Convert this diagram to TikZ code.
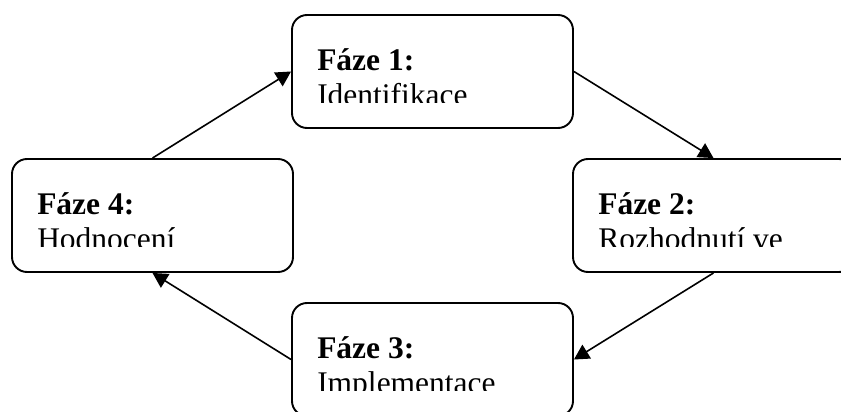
\documentclass[tikz,border=0pt]{standalone}
\usepackage{fontspec}
\setmainfont{Liberation Serif}
\usetikzlibrary{arrows.meta,calc,backgrounds}
\begin{document}
\begin{tikzpicture}[x=1pt,y=-1pt,
  phase/.style={draw, line width=1.9pt, rounded corners=15pt, fill=white,
    minimum width=281pt, minimum height=113pt, inner sep=0pt},
  arr/.style={line width=1.6pt, -{Triangle[length=15pt,width=16pt]}},
  txt/.style={anchor=base west, inner sep=0pt, font=\fontsize{31.5}{36}\selectfont}]
\useasboundingbox (0,0) rectangle (841,412);
\clip (0,0) rectangle (841,412);
\node[phase] (b1) at (432.5,71.5) {};
\node[phase] (b2) at (713.5,215.5) {};
\node[phase] (b3) at (432.5,359.5) {};
\node[phase] (b4) at (152.5,215.5) {};
\begin{pgfonlayer}{background}
\draw[arr] (b4.north) -- (b1.west);
\draw[arr] (b1.east) -- (b2.north);
\draw[arr] (b2.south) -- (b3.east);
\draw[arr] (b3.west) -- (b4.south);
\end{pgfonlayer}
\begin{scope}
\clip (b1.north west) rectangle ($(b1.north east)+(0,88)$);
\node[txt] (t1a) at ($(b1.north west)+(26,56)$) {\bfseries Fáze 1:};
\node[txt] (t1b) at ($(b1.north west)+(26,91.5)$) {Identifikace};
\end{scope}
\begin{scope}
\clip (b2.north west) rectangle ($(b2.north east)+(0,88)$);
\node[txt] (t2a) at ($(b2.north west)+(26,56)$) {\bfseries Fáze 2:};
\node[txt] (t2b) at ($(b2.north west)+(26,91.5)$) {Rozhodnutí ve};
\end{scope}
\begin{scope}
\clip (b3.north west) rectangle ($(b3.north east)+(0,88)$);
\node[txt] (t3a) at ($(b3.north west)+(26,56)$) {\bfseries Fáze 3:};
\node[txt] (t3b) at ($(b3.north west)+(26,91.5)$) {Implementace};
\end{scope}
\begin{scope}
\clip (b4.north west) rectangle ($(b4.north east)+(0,88)$);
\node[txt] (t4a) at ($(b4.north west)+(26,56)$) {\bfseries Fáze 4:};
\node[txt] (t4b) at ($(b4.north west)+(26,91.5)$) {Hodnocení};
\end{scope}
\end{tikzpicture}
\end{document}
